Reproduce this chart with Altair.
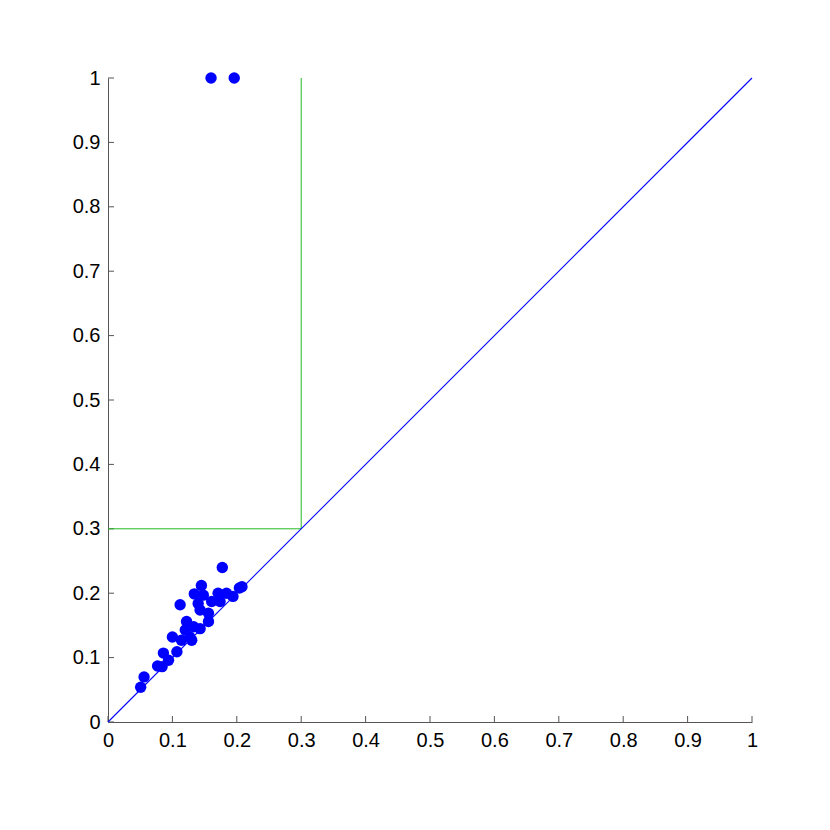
import altair as alt
import pandas as pd

xs = [0.0507, 0.056, 0.077, 0.084, 0.086, 0.094, 0.107, 0.100, 0.112, 0.114,
      0.122, 0.120, 0.127, 0.133, 0.130, 0.134, 0.145, 0.140, 0.143, 0.143,
      0.156, 0.156, 0.148, 0.161, 0.171, 0.174, 0.184, 0.194, 0.204, 0.208,
      0.1775, 0.160, 0.196]
ys = [0.054, 0.070, 0.087, 0.086, 0.107, 0.096, 0.109, 0.132, 0.182, 0.127,
      0.156, 0.143, 0.132, 0.148, 0.127, 0.199, 0.212, 0.184, 0.174, 0.145,
      0.156, 0.169, 0.197, 0.187, 0.200, 0.187, 0.200, 0.195, 0.208, 0.210,
      0.240, 1.0, 1.0]

ticks = [0, 0.1, 0.2, 0.3, 0.4, 0.5, 0.6, 0.7, 0.8, 0.9, 1]

diag_x = [0]
diag_x2 = [1]
diag_y = [0]
diag_y2 = [1]
green_x = [0, 0.3]
green_x2 = [0.3, 0.3]
green_y = [0.3, 0.3]
green_y2 = [0.3, 1.0]

pts = pd.DataFrame({"x": xs, "y": ys})
diag = pd.DataFrame({"x": diag_x, "x2": diag_x2, "y": diag_y, "y2": diag_y2})
green = pd.DataFrame({"x": green_x, "x2": green_x2, "y": green_y, "y2": green_y2})
tk = pd.DataFrame({"t": ticks})

W = 644
H = 644
AXC = "#555555"
xs_scale = alt.Scale(domain=[0, 1], nice=False, zero=False)
ys_scale = alt.Scale(domain=[0, 1], nice=False, zero=False)

xaxis = alt.Axis(values=ticks, format="~g", title=None, labelFlush=False,
                 labelFontSize=20, labelFont="Liberation Sans", labelOverlap=False)
yaxis = alt.Axis(values=ticks, format="~g", title=None, labelFlush=False,
                 labelFontSize=20, labelFont="Liberation Sans", labelOverlap=False)

base_axes = alt.Chart(tk).mark_point(opacity=0, strokeOpacity=0, fillOpacity=0).encode(
    x=alt.X("t:Q", scale=xs_scale, axis=xaxis),
    y=alt.Y("t:Q", scale=ys_scale, axis=yaxis),
)

xticks = alt.Chart(tk).mark_rule(strokeWidth=1, stroke=AXC).encode(
    x=alt.X("t:Q", scale=xs_scale),
    y=alt.value(H),
    y2=alt.value(H - 6),
)
yticks = alt.Chart(tk).mark_rule(strokeWidth=1, stroke=AXC).encode(
    y=alt.Y("t:Q", scale=ys_scale),
    x=alt.value(0),
    x2=alt.value(6),
)

diag_line = alt.Chart(diag).mark_rule(strokeWidth=1.1, stroke="#0000ff").encode(
    x=alt.X("x:Q", scale=xs_scale),
    x2="x2:Q",
    y=alt.Y("y:Q", scale=ys_scale),
    y2="y2:Q",
)
green_line = alt.Chart(green).mark_rule(strokeWidth=1, stroke="#22bb22").encode(
    x=alt.X("x:Q", scale=xs_scale),
    x2="x2:Q",
    y=alt.Y("y:Q", scale=ys_scale),
    y2="y2:Q",
)
points = alt.Chart(pts).mark_circle(opacity=1, size=130, fill="#0000ff", color="#0000ff").encode(
    x=alt.X("x:Q", scale=xs_scale),
    y=alt.Y("y:Q", scale=ys_scale),
)

chart = alt.layer(base_axes, xticks, yticks, green_line, diag_line, points).properties(
    width=W, height=H,
    autosize=alt.AutoSizeParams(type="none"),
    padding={"left": 100, "top": 70, "right": 70, "bottom": 90},
).configure(background="#ffffff").configure_view(
    stroke=None, strokeWidth=0
).configure_axis(
    tickSize=0, grid=False, domainColor=AXC, domainWidth=1,
    labelFont="Liberation Sans", labelFontSize=20, labelColor="#000000",
).configure_axisX(labelPadding=8).configure_axisY(labelPadding=8)

chart.save("out.html", embed_options={"renderer": "svg", "actions": False})
